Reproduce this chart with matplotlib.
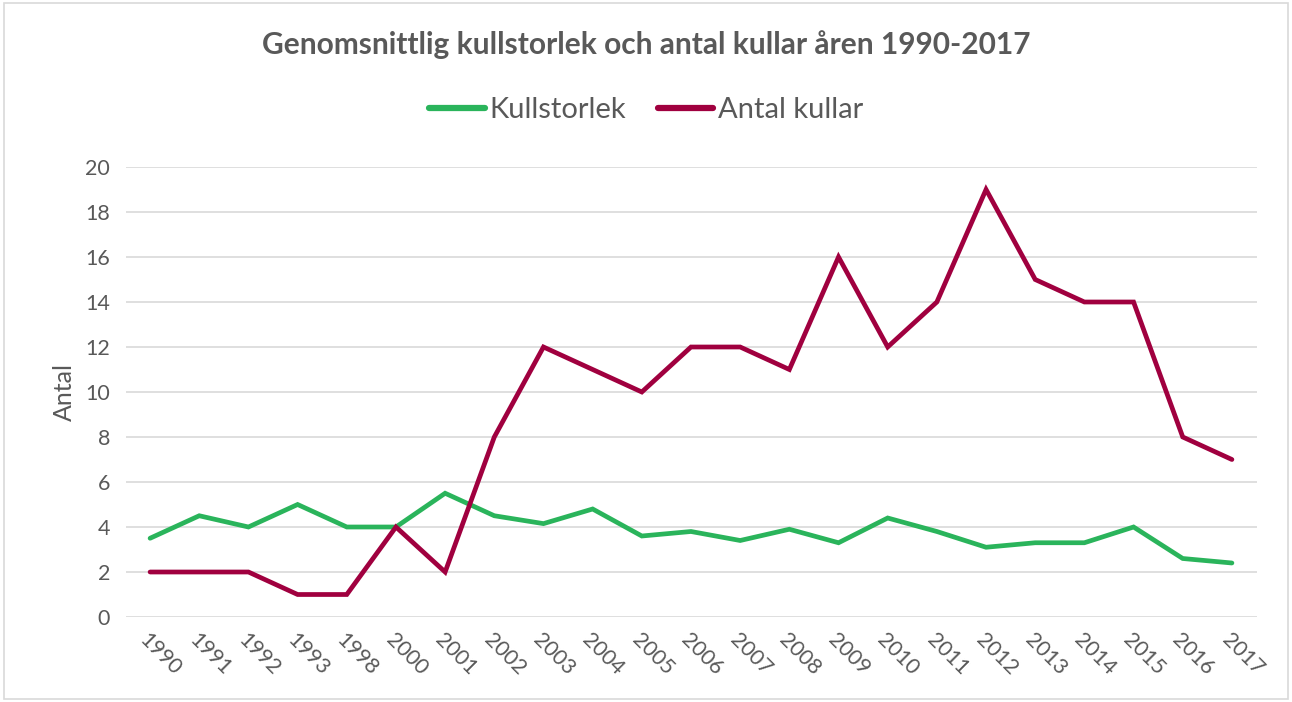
import matplotlib
matplotlib.use("Agg")
import matplotlib.pyplot as plt
from matplotlib.patches import Rectangle

years = ["1990", "1991", "1992", "1993", "1998", "2000", "2001", "2002", "2003", "2004",
         "2005", "2006", "2007", "2008", "2009", "2010", "2011", "2012", "2013", "2014",
         "2015", "2016", "2017"]
kullstorlek = [3.5, 4.5, 4.0, 5.0, 4.0, 4.0, 5.5, 4.5, 4.15, 4.8, 3.6, 3.8, 3.4, 3.9,
               3.3, 4.4, 3.8, 3.1, 3.3, 3.3, 4.0, 2.6, 2.4]
antal_kullar = [2, 2, 2, 1, 1, 4, 2, 8, 12, 11, 10, 12, 12, 11, 16, 12, 14, 19, 15, 14,
                14, 8, 7]

plt.rcParams['font.family'] = ['Lato', 'DejaVu Sans']
TXT = '#595959'

fig = plt.figure(figsize=(12.92, 7.02), dpi=100)
fig.patches.append(Rectangle((0.003, 0.004), 0.994, 0.992, transform=fig.transFigure,
                             fill=False, edgecolor='#D9D9D9', linewidth=1.2))
ax = fig.add_axes([125.5/1292, 1-617/702, (1256.5-125.5)/1292, 450/702])

x = list(range(len(years)))
ax.plot(x, kullstorlek, color='#2AB45B', lw=3.4, solid_capstyle='round',
        solid_joinstyle='miter', label='Kullstorlek')
ax.plot(x, antal_kullar, color='#A0003F', lw=3.4, solid_capstyle='round',
        solid_joinstyle='miter', label='Antal kullar')

ax.set_xlim(-0.5, len(years) - 0.5)
ax.set_ylim(0, 20)
ax.set_yticks(range(0, 21, 2))
ax.set_xticks(x)
ax.set_xticklabels(years, rotation=-45, ha='left', va='top', rotation_mode='anchor')
ax.tick_params(axis='both', length=0, colors=TXT, labelsize=15.5)
ax.tick_params(axis='x', pad=9)
ax.tick_params(axis='y', pad=11)
ax.grid(axis='y', color='#D9D9D9', lw=1.2)
ax.set_axisbelow(True)
for s in ax.spines.values():
    s.set_visible(False)
ax.set_ylabel('Antal', color=TXT, fontsize=18, labelpad=7)

fig.text(0.5, 1-45/702, 'Genomsnittlig kullstorlek och antal kullar åren 1990-2017',
         ha='center', va='center', fontsize=21.5, fontweight='bold', color=TXT)
leg = fig.legend(loc='center', bbox_to_anchor=(0.5, 1-110/702), ncol=2, frameon=False,
                 fontsize=21, handlelength=1.9, handletextpad=0.15, columnspacing=1.1,
                 labelcolor=TXT)
for h in leg.legend_handles:
    h.set_linewidth(4.5)

fig.savefig('out.png', dpi=100)
